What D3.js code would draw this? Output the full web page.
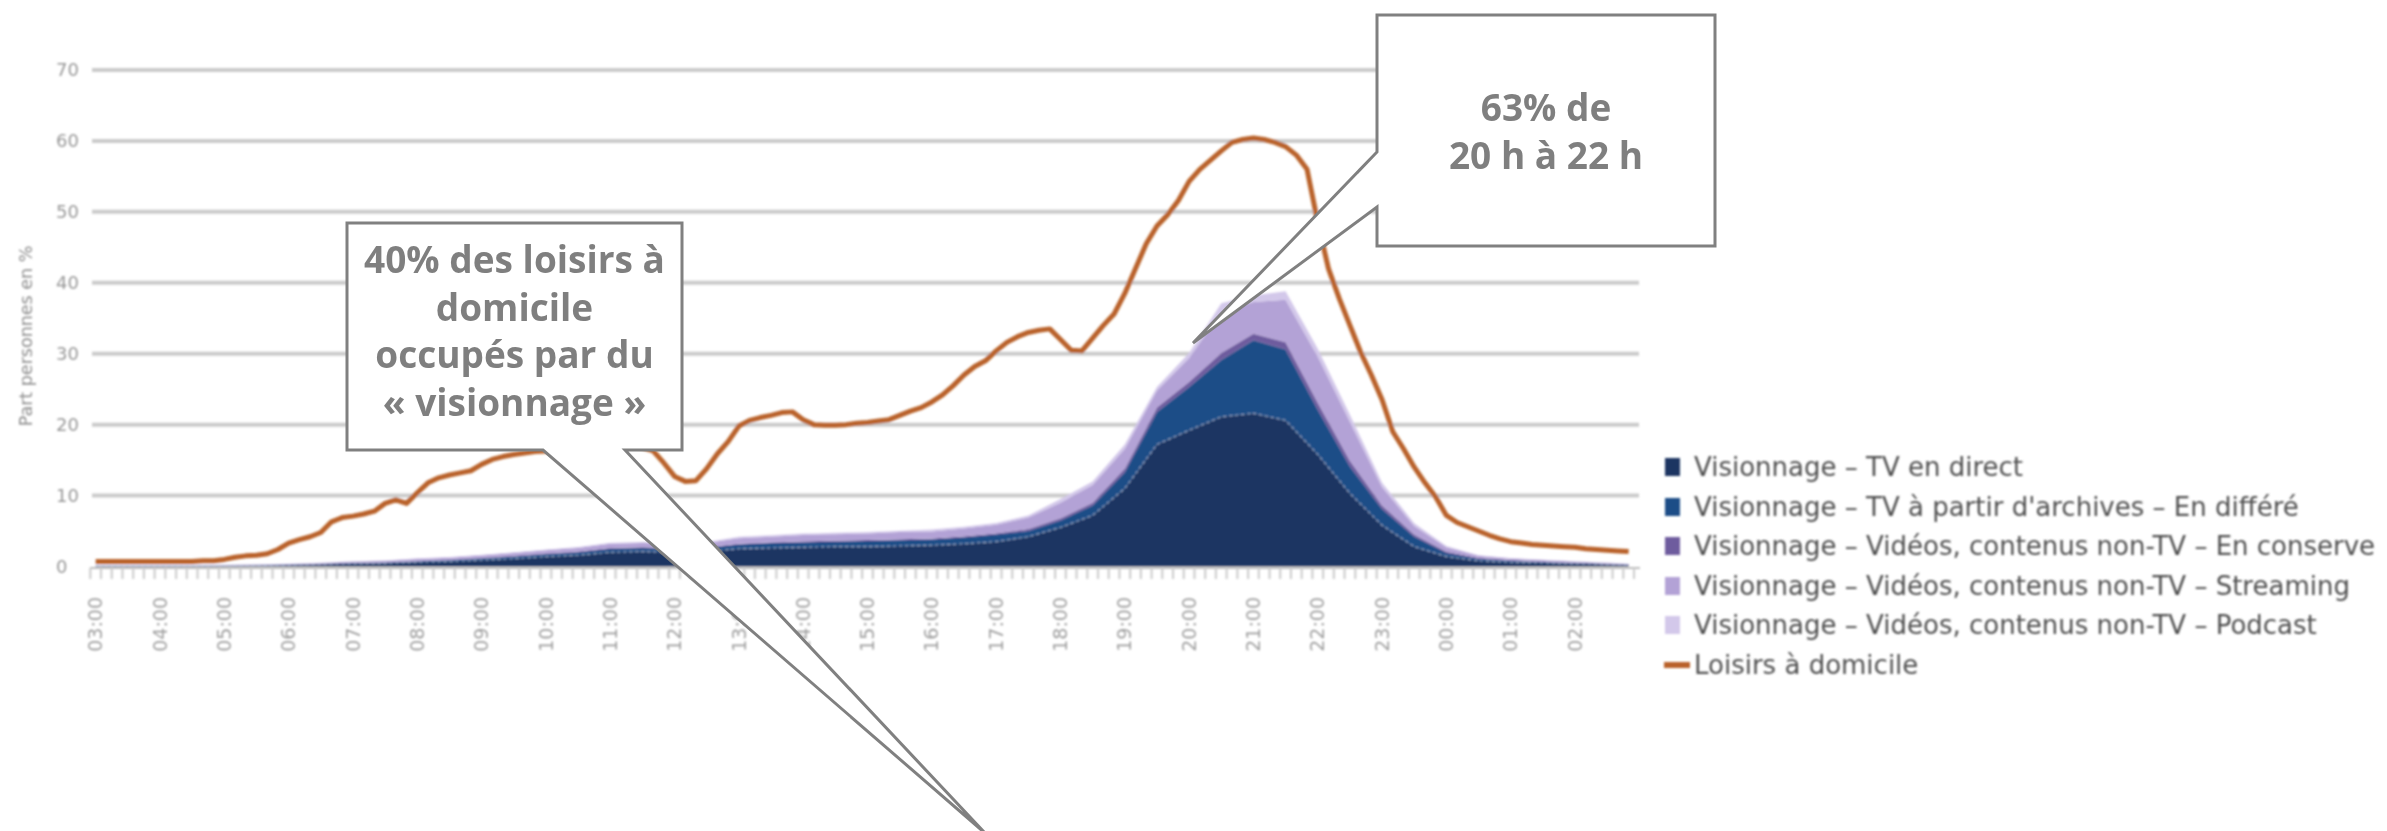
<!DOCTYPE html>
<html>
<head>
<meta charset="utf-8">
<script src="https://cdn.jsdelivr.net/npm/d3@7"></script>
<style>
  body { margin: 0; background: #fff; }
  svg { display: block; }
</style>
</head>
<body>
<svg id="chart" width="2387" height="831"></svg>
<script>
// ---- Data -------------------------------------------------------------
// Hour labels of the x axis (day runs from 03:00 to 03:00)
const hourLabels = ["03:00","04:00","05:00","06:00","07:00","08:00","09:00","10:00",
  "11:00","12:00","13:00","14:00","15:00","16:00","17:00","18:00","19:00","20:00",
  "21:00","22:00","23:00","00:00","01:00","02:00"];

const yTicks = [0, 10, 20, 30, 40, 50, 60, 70];

// Share of people in home leisure (%), every 10 minutes from 03:00
const leisureShare = [
  0.7,0.7,0.7,0.7,0.7,0.7,            // 03h
  0.7,0.7,0.7,0.7,0.8,0.8,            // 04h
  1.0,1.3,1.5,1.6,1.8,2.4,            // 05h
  3.3,3.8,4.2,4.8,6.3,6.9,            // 06h
  7.1,7.4,7.8,8.9,9.4,8.9,            // 07h
  10.4,11.8,12.5,12.9,13.2,13.5,      // 08h
  14.4,15.1,15.5,15.8,16.0,16.2,      // 09h
  16.3,16.4,16.6,16.8,16.9,17.0,      // 10h
  17.1,17.2,17.0,16.8,16.3,14.6,      // 11h
  12.7,12.0,12.1,13.8,15.9,17.6,      // 12h
  19.8,20.6,21.0,21.3,21.7,21.8,      // 13h
  20.7,20.0,19.9,19.9,20.0,20.2,      // 14h
  20.3,20.5,20.7,21.3,21.9,22.4,      // 15h
  23.2,24.2,25.5,27.0,28.2,29.0,      // 16h
  30.4,31.6,32.4,33.0,33.3,33.5,      // 17h
  32.0,30.5,30.4,32.2,34.0,35.6,      // 18h
  38.5,42.0,45.5,48.0,49.6,51.6,      // 19h
  54.3,56.0,57.3,58.6,59.8,60.2,      // 20h
  60.4,60.2,59.8,59.2,58.0,56.0,      // 21h
  48.5,42.0,37.8,34.0,30.2,27.0,      // 22h
  23.5,19.0,16.6,14.0,11.8,9.8,       // 23h
  7.2,6.2,5.6,5.0,4.4,3.9,            // 00h
  3.5,3.3,3.1,3.0,2.9,2.8,            // 01h
  2.7,2.5,2.4,2.3,2.2,2.1             // 02h
];

// Viewing shares (%), every 30 minutes from 03:00, last point 02:50
const tvLive = [
  0.1,0.1,0.1,0.1,0.1,0.15,0.2,0.3,0.4,0.45,
  0.6,0.7,0.9,1.1,1.4,1.6,2.0,2.1,2.0,2.1,
  2.5,2.6,2.7,2.8,2.8,2.9,3.0,3.2,3.5,4.2,
  5.5,7.2,11.0,17.2,19.2,21.1,21.6,20.6,15.8,10.3,
  5.8,2.8,1.4,0.8,0.6,0.5,0.4,0.3,0.2
];
const tvReplay = [
  0,0,0,0,0.02,0.03,0.05,0.05,0.1,0.1,
  0.15,0.2,0.25,0.3,0.35,0.4,0.5,0.5,0.5,0.5,
  0.6,0.7,0.7,0.7,0.8,0.8,0.8,0.9,1.0,0.8,
  1.0,1.4,2.3,4.6,6.1,8.0,10.3,10.0,6.3,3.8,
  2.3,1.4,0.5,0.3,0.2,0.15,0.1,0.05,0.05
];
const videoStored = [
  0,0,0,0,0.02,0.02,0.03,0.03,0.05,0.05,
  0.05,0.05,0.05,0.1,0.1,0.1,0.1,0.1,0.1,0.1,
  0.1,0.1,0.15,0.15,0.15,0.15,0.15,0.15,0.2,0.3,
  0.3,0.4,0.5,0.6,0.7,1.0,0.9,1.0,1.0,0.8,
  0.5,0.3,0.2,0.1,0.1,0.05,0.05,0.05,0.03
];
const videoStreaming = [
  0.05,0.05,0.05,0.05,0.05,0.05,0.07,0.1,0.15,0.2,
  0.25,0.3,0.35,0.4,0.45,0.5,0.6,0.6,0.6,0.6,
  0.8,0.8,0.9,0.9,0.9,1.0,1.0,1.1,1.2,1.6,
  2.2,2.5,2.8,2.4,3.4,5.8,4.5,6.0,6.5,5.5,
  2.6,1.2,0.6,0.3,0.2,0.2,0.15,0.1,0.07
];
const videoPodcast = [
  0.05,0.05,0.05,0.05,0.05,0.05,0.05,0.05,0.05,0.05,
  0.1,0.1,0.1,0.1,0.1,0.15,0.15,0.15,0.15,0.15,
  0.2,0.2,0.2,0.2,0.2,0.2,0.25,0.25,0.25,0.3,
  0.5,0.5,0.6,0.5,0.7,1.2,0.9,1.2,1.1,1.0,
  0.6,0.4,0.2,0.1,0.1,0.05,0.05,0.05,0.03
];

const seriesNames = [
  "Visionnage – TV en direct",
  "Visionnage – TV à partir d'archives – En différé",
  "Visionnage – Vidéos, contenus non-TV – En conserve",
  "Visionnage – Vidéos, contenus non-TV – Streaming",
  "Visionnage – Vidéos, contenus non-TV – Podcast"
];
const lineName = "Loisirs à domicile";
const seriesColors = ["#1b3562", "#1f4e87", "#6e5c9e", "#b3a2d6", "#d3c8ea"];
const lineColor = "#b9622a";

const noteViewing = ["40% des loisirs à", "domicile", "occupés par du", "« visionnage »"];
const noteEvening = ["63% de", "20 h à 22 h"];

// ---- Scales -----------------------------------------------------------
const svg = d3.select("#chart");
const x = d3.scaleLinear().domain([0, 1440]).range([90.3, 1634]);
const y = d3.scaleLinear().domain([0, 70]).range([566.5, 70]);

// minutes after 03:00 for each sample (plotted at the middle of its 10-min slot)
const leisureMinutes = leisureShare.map((_, i) => i * 10);
const stackMinutes = tvLive.map((_, i) => (i < tvLive.length - 1 ? i * 30 : 1430));

const defs = svg.append("defs");
defs.append("filter").attr("id", "soft")
  .attr("x", "-2%").attr("y", "-2%").attr("width", "104%").attr("height", "104%")
  .append("feGaussianBlur").attr("stdDeviation", 0.9);

const chart = svg.append("g").attr("filter", "url(#soft)");

// ---- Grid -------------------------------------------------------------
chart.append("g").selectAll("line")
  .data(yTicks.filter(d => d > 0))
  .join("line")
  .attr("x1", 92).attr("x2", 1639)
  .attr("y1", d => y(d)).attr("y2", d => y(d))
  .attr("stroke", "#cbcbcb").attr("stroke-width", 4);

// y tick labels
chart.append("g").selectAll("text")
  .data(yTicks)
  .join("text")
  .attr("x", 56).attr("y", d => y(d)).attr("dy", "0.36em")
  .attr("font-family", "DejaVu Sans").attr("font-size", 18)
  .attr("fill", "#979797")
  .text(d => d);

// y axis title
chart.append("text")
  .attr("transform", "translate(26,336) rotate(-90)")
  .attr("text-anchor", "middle").attr("dy", "0.35em")
  .attr("font-family", "DejaVu Sans").attr("font-size", 17.5)
  .attr("fill", "#8c8c8c")
  .text("Part personnes en %");

// ---- Stacked viewing areas -------------------------------------------
const rows = stackMinutes.map((m, i) => ({
  m, s0: tvLive[i], s1: tvReplay[i], s2: videoStored[i], s3: videoStreaming[i], s4: videoPodcast[i]
}));
const stack = d3.stack().keys(["s0", "s1", "s2", "s3", "s4"]);
const layers = stack(rows);

const area = d3.area()
  .x(d => x(d.data.m + 5))
  .y0(d => y(d[0]))
  .y1(d => y(d[1]))
  .curve(d3.curveLinear);

chart.append("g").selectAll("path")
  .data(layers)
  .join("path")
  .attr("d", area)
  .attr("fill", (d, i) => seriesColors[i]);

// light dotted edge on top of the live-TV layer
chart.append("path")
  .datum(layers[0])
  .attr("d", d3.line().x(d => x(d.data.m + 5)).y(d => y(d[1])))
  .attr("fill", "none").attr("stroke", "#a9b9d6")
  .attr("stroke-width", 1.2).attr("stroke-dasharray", "3,3").attr("opacity", 0.8);

// ---- X axis band with 10-minute ticks --------------------------------
chart.append("line")
  .attr("x1", 90).attr("x2", 1640).attr("y1", 568).attr("y2", 568)
  .attr("stroke", "#bdbdbd").attr("stroke-width", 2);
chart.append("g").selectAll("line")
  .data(d3.range(0, 1441, 10))
  .join("line")
  .attr("x1", d => x(d)).attr("x2", d => x(d))
  .attr("y1", 568).attr("y2", 579)
  .attr("stroke", "#cfcfcf").attr("stroke-width", 2.2);

chart.append("g").selectAll("text")
  .data(hourLabels)
  .join("text")
  .attr("transform", (d, i) => `translate(${x(i * 60 + 5)},597) rotate(-90)`)
  .attr("text-anchor", "end").attr("dy", "0.35em")
  .attr("font-family", "DejaVu Sans").attr("font-size", 19)
  .attr("fill", "#a0a0a0")
  .text(d => d);

// ---- Home leisure line -----------------------------------------------
chart.append("path")
  .datum(leisureShare)
  .attr("d", d3.line().x((d, i) => x(leisureMinutes[i] + 5)).y(d => y(d)))
  .attr("fill", "none").attr("stroke", lineColor)
  .attr("stroke-width", 5).attr("stroke-linejoin", "round");

// ---- Legend ------------------------------------------------------------
const legendY = [467, 507, 546, 586, 625, 665];
const legend = chart.append("g");
seriesNames.forEach((name, i) => {
  legend.append("rect")
    .attr("x", 1665).attr("y", legendY[i] - 9).attr("width", 15).attr("height", 18)
    .attr("fill", seriesColors[i]);
  legend.append("text")
    .attr("x", 1694).attr("y", legendY[i]).attr("dy", "0.35em")
    .attr("font-family", "DejaVu Sans").attr("font-size", 26)
    .attr("fill", "#505050")
    .text(name);
});
legend.append("line")
  .attr("x1", 1664).attr("x2", 1690).attr("y1", legendY[5]).attr("y2", legendY[5])
  .attr("stroke", lineColor).attr("stroke-width", 6);
legend.append("text")
  .attr("x", 1694).attr("y", legendY[5]).attr("dy", "0.35em")
  .attr("font-family", "DejaVu Sans").attr("font-size", 26)
  .attr("fill", "#505050")
  .text(lineName);

// ---- Callouts ----------------------------------------------------------
const notes = svg.append("g");
function callout(points, lines, cx, baseline) {
  notes.append("path")
    .attr("d", d3.line()(points) + "Z")
    .attr("fill", "#fff").attr("stroke", "#808080").attr("stroke-width", 3)
    .attr("stroke-linejoin", "miter");
  notes.append("g").selectAll("text")
    .data(lines)
    .join("text")
    .attr("x", cx).attr("y", (d, i) => baseline + i * 47.5)
    .attr("text-anchor", "middle")
    .attr("font-family", "Open Sans").attr("font-weight", 700).attr("font-size", 37)
    .attr("fill", "#7f7f7f")
    .text(d => d);
}
callout([[347, 223], [682, 223], [682, 450], [625, 450], [985, 833], [543, 450], [347, 450]],
        noteViewing, 514.5, 273);
callout([[1377, 15], [1715, 15], [1715, 246], [1377, 246], [1377, 207], [1193, 343], [1377, 152]],
        noteEvening, 1546, 121);
</script>
</body>
</html>
